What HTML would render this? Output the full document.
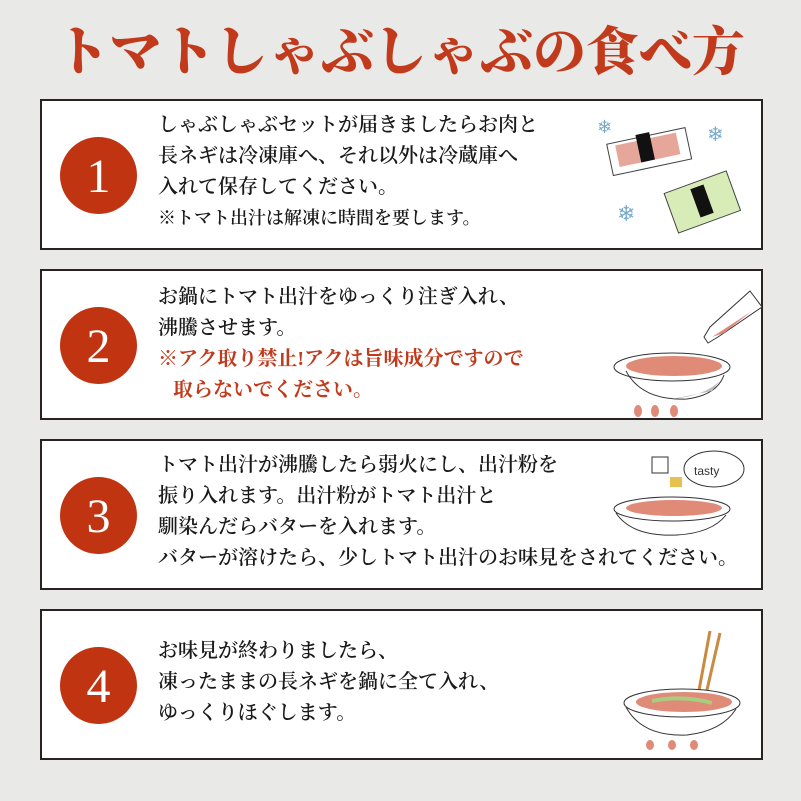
<!DOCTYPE html>
<html><head><meta charset="utf-8"><style>
body{margin:0;width:801px;height:801px;background:#e9e9e7;position:relative;overflow:hidden;font-family:"Liberation Serif","Noto Serif CJK SC",serif;}
.title{position:absolute;left:0;width:801px;top:18px;text-align:center;font-size:53px;font-weight:900;color:#c23a1c;letter-spacing:0px;line-height:70px;}
.box{position:absolute;left:40px;width:719px;height:147px;background:#fff;border:2px solid #2a2222;}
.c{position:absolute;left:18px;top:36px;width:77px;height:77px;border-radius:50%;background:#c03412;color:#fff;font-size:48px;text-align:center;line-height:80px;font-family:"Liberation Serif",serif;}
.t{position:absolute;left:116px;font-size:20px;color:#1a1a1a;line-height:31px;white-space:nowrap;font-weight:600;}
.r{color:#c23a1c;font-weight:bold}
svg{position:absolute}
</style></head><body>
<div class="title">トマトしゃぶしゃぶの食べ方</div>

<div class="box" style="top:99px">
<div class="c">1</div>
<div class="t" style="top:9px">しゃぶしゃぶセットが届きましたらお肉と<br>長ネギは冷凍庫へ、それ以外は冷蔵庫へ<br>入れて保存してください。<br><span style="font-size:18px">※トマト出汁は解凍に時間を要します。</span></div>
<svg style="left:545px;top:10px" width="170" height="130">
<rect x="22" y="25" width="80" height="32" fill="#fff" stroke="#444" transform="rotate(-12 60 40)"/>
<rect x="30" y="28" width="62" height="22" fill="#e6a79a" transform="rotate(-12 60 40)"/>
<rect x="52" y="22" width="14" height="28" fill="#111" transform="rotate(-12 60 40)"/>
<rect x="82" y="70" width="66" height="42" fill="#d8ecb8" stroke="#444" transform="rotate(-20 115 90)"/>
<rect x="108" y="75" width="14" height="30" fill="#111" transform="rotate(-20 115 90)"/>
<text x="10" y="22" font-size="18" fill="#7ac">❄</text><text x="120" y="30" font-size="20" fill="#7ac">❄</text><text x="30" y="110" font-size="22" fill="#7ac">❄</text>
</svg>
</div>

<div class="box" style="top:269px">
<div class="c">2</div>
<div class="t" style="top:11px">お鍋にトマト出汁をゆっくり注ぎ入れ、<br>沸騰させます。<br><span class="r">※アク取り禁止!アクは旨味成分ですので<br>&nbsp;&nbsp;&nbsp;取らないでください。</span></div>
<svg style="left:570px;top:0" width="150" height="148">
<path d="M138 20 L150 36 L106 66 L96 72 L92 66 L98 56 Z" fill="#fff" stroke="#333"/>
<path d="M100 66 L140 40 L112 62 Z" fill="#e08a78"/>
<ellipse cx="60" cy="96" rx="58" ry="14" fill="#fff" stroke="#333"/>
<ellipse cx="62" cy="95" rx="48" ry="10" fill="#e08a78"/>
<path d="M14 100 Q30 130 75 128 Q105 124 112 104" fill="none" stroke="#333"/>
<path d="M60 128 Q100 124 112 104 L100 120 Z" fill="#bbb"/>
<ellipse cx="26" cy="140" rx="4" ry="6" fill="#e08a78"/><ellipse cx="43" cy="140" rx="4" ry="6" fill="#e08a78"/><ellipse cx="62" cy="140" rx="4" ry="6" fill="#e08a78"/>
</svg>
</div>

<div class="box" style="top:439px">
<div class="c">3</div>
<div class="t" style="top:9px">トマト出汁が沸騰したら弱火にし、出汁粉を<br>振り入れます。出汁粉がトマト出汁と<br>馴染んだらバターを入れます。<br>バターが溶けたら、少しトマト出汁のお味見をされてください。</div>
<svg style="left:560px;top:6px" width="150" height="110">
<rect x="50" y="10" width="16" height="16" fill="#fff" stroke="#333"/>
<rect x="68" y="30" width="12" height="10" fill="#e8c050"/>
<ellipse cx="112" cy="22" rx="30" ry="18" fill="#fff" stroke="#333"/>
<text x="92" y="28" font-size="12" fill="#333" font-family="Liberation Sans">tasty</text>
<ellipse cx="70" cy="62" rx="58" ry="12" fill="#fff" stroke="#333"/>
<ellipse cx="72" cy="61" rx="48" ry="8" fill="#e08a78"/>
<path d="M14 66 Q30 90 75 88 Q110 86 124 68" fill="none" stroke="#333"/>
</svg>
</div>

<div class="box" style="top:609px">
<div class="c">4</div>
<div class="t" style="top:25px">お味見が終わりましたら、<br>凍ったままの長ネギを鍋に全て入れ、<br>ゆっくりほぐします。</div>
<svg style="left:570px;top:10px" width="150" height="135">
<line x1="98" y1="10" x2="85" y2="80" stroke="#c98a40" stroke-width="3"/><line x1="108" y1="12" x2="92" y2="82" stroke="#c98a40" stroke-width="3"/>
<ellipse cx="70" cy="82" rx="58" ry="14" fill="#fff" stroke="#333"/>
<ellipse cx="72" cy="81" rx="48" ry="10" fill="#e08a78"/>
<path d="M40 80 Q70 74 100 82" stroke="#a8cc80" stroke-width="4" fill="none"/>
<path d="M14 86 Q30 116 75 114 Q110 110 124 88" fill="none" stroke="#333"/>
<ellipse cx="38" cy="124" rx="4" ry="5" fill="#e08a78"/><ellipse cx="60" cy="124" rx="4" ry="5" fill="#e08a78"/><ellipse cx="82" cy="124" rx="4" ry="5" fill="#e08a78"/>
</svg>
</div>
</body></html>
